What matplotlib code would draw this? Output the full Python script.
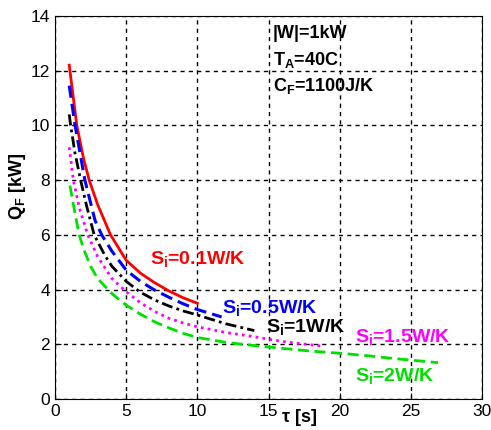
import matplotlib
matplotlib.use("Agg")
import matplotlib.pyplot as plt

plt.rcParams['font.family'] = ['Liberation Sans', 'DejaVu Sans']
plt.rcParams['mathtext.fontset'] = 'custom'
plt.rcParams['mathtext.rm'] = 'Liberation Sans'
plt.rcParams['mathtext.bf'] = 'Liberation Sans:bold'

# curves: tau [s] -> Q_F [kW]
x_01 = [1, 1.53, 2, 2.4, 3, 3.9, 5, 6, 7, 8, 9, 10]
y_01 = [12.2, 10.0, 8.8, 8.0, 7.1, 6.0, 5.07, 4.6, 4.25, 3.95, 3.7, 3.5]

x_05 = [1, 1.41, 2.1, 2.81, 3.28, 4, 5, 6, 7, 8, 9, 10, 11.7]
y_05 = [11.45, 10.0, 8.0, 6.53, 6.0, 5.4, 4.71, 4.3, 3.98, 3.72, 3.48, 3.27, 3.0]

x_1 = [1, 1.1, 1.4, 1.8, 2.2, 2.75, 3.5, 4, 5, 6, 7, 8, 9, 10, 12, 14]
y_1 = [10.4, 10.0, 9.0, 8.0, 7.1, 6.0, 5.25, 4.85, 4.3, 3.9, 3.62, 3.4, 3.22, 3.07, 2.75, 2.5]

x_15 = [1, 1.29, 1.7, 2.3, 3, 4, 5, 6, 7, 8, 9, 10, 12, 13.7, 16, 18.8]
y_15 = [9.2, 8.0, 7.0, 6.0, 5.2, 4.4, 3.92, 3.52, 3.2, 2.95, 2.78, 2.64, 2.43, 2.3, 2.1, 1.93]

x_2 = [1.05, 1.4, 1.7, 2, 2.5, 3, 4, 5, 6, 7, 8, 9, 10, 12, 13.7, 16, 18, 20.1, 22, 24, 26.9]
y_2 = [7.8, 6.8, 6.0, 5.5, 4.85, 4.4, 3.85, 3.43, 3.1, 2.82, 2.6, 2.4, 2.25, 2.07, 1.97, 1.85, 1.75, 1.67, 1.58, 1.47, 1.33]

fig = plt.figure(figsize=(4.91, 4.30), dpi=100)
ax = fig.add_axes([0.112, 0.072, 0.870, 0.891])

ax.plot(x_01, y_01, color='red', lw=2, ls='-')
ax.plot(x_05, y_05, color='blue', lw=2.2, ls=(0, (4, 2)))
ax.plot(x_1, y_1, color='black', lw=2, ls=(0, (4, 1.5, 1, 1.5)))
ax.plot(x_15, y_15, color='magenta', lw=2, ls=(0, (1, 1.5)))
ax.plot(x_2, y_2, color='#00e000', lw=2, ls=(0, (4, 2)))

ax.set_xlim(0, 30)
ax.set_ylim(0, 14)
ax.set_xticks([0, 5, 10, 15, 20, 25, 30])
ax.set_yticks([0, 2, 4, 6, 8, 10, 12, 14])
ax.tick_params(direction='in', labelsize=12.5, length=4)
ax.grid(True, color='black', ls=(0, (3, 3)), lw=1)

lab = dict(fontsize=14, fontweight='bold', va='center')
ax.text(6.7, 5.07, r'S$_\mathbf{i}$=0.1W/K', color='red', **lab)
ax.text(11.7, 3.3, r'S$_\mathbf{i}$=0.5W/K', color='blue', **lab)
ax.text(14.8, 2.6, r'S$_\mathbf{i}$=1W/K', color='black', **lab)
ax.text(21.1, 2.22, r'S$_\mathbf{i}$=1.5W/K', color='magenta', **lab)
ax.text(21.1, 0.81, r'S$_\mathbf{i}$=2W/K', color='#00e000', **lab)

note = dict(fontsize=13, fontweight='bold', va='center', color='black')
ax.text(15.3, 13.35, '|W|=1kW', **note)
ax.text(15.3, 12.4, r'T$_\mathbf{A}$=40C', **note)
ax.text(15.3, 11.45, r'C$_\mathbf{F}$=1100J/K', **note)

ax.text(0.571, -0.047, r'$\mathbf{\tau}$ [s]', transform=ax.transAxes,
        fontsize=13, fontweight='bold', ha='center', va='center')
ax.text(-0.087, 0.556, r'Q$_\mathbf{F}$ [kW]', transform=ax.transAxes,
        fontsize=13, fontweight='bold', ha='center', va='center', rotation=90)

fig.savefig('out.png', dpi=100)
